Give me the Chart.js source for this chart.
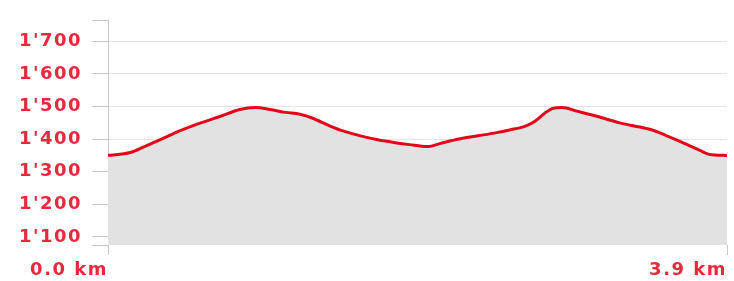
<!DOCTYPE html>
<html>
<head>
<meta charset="utf-8">
<script src="https://cdn.jsdelivr.net/npm/chart.js@4/dist/chart.umd.min.js"></script>
<style>
  html, body { margin: 0; padding: 0; background: #fff; }
  #wrap { width: 734px; height: 281px; }
</style>
</head>
<body>
<div id="wrap"><canvas id="profile" width="734" height="281"></canvas></div>
<script>
// distance along the route (km) and elevation (m)
const distances = [0, 0.14, 0.23, 0.33, 0.45, 0.58, 0.71, 0.83, 0.93, 1.02, 1.12, 1.21, 1.29, 1.40, 1.48, 1.59, 1.70, 1.81, 1.90, 2.01, 2.11, 2.22, 2.33, 2.44, 2.53, 2.63, 2.69, 2.75, 2.80, 2.86, 2.96, 3.08, 3.23, 3.35, 3.43, 3.52, 3.65, 3.73, 3.79, 3.90];
const elevations = [1350, 1359, 1377, 1398, 1425, 1449, 1470, 1491, 1497, 1491, 1482, 1476, 1464, 1440, 1425, 1410, 1398, 1389, 1383, 1377, 1389, 1401, 1410, 1419, 1428, 1440, 1455, 1479, 1494, 1497, 1485, 1470, 1449, 1437, 1428, 1410, 1383, 1365, 1353, 1350];
const yTicks = [1100, 1200, 1300, 1400, 1500, 1600, 1700];
const xTicks = [0, 3.9];
const yMin = 1075, yMax = 1763;

const red = '#e62a3d';

function fmtElev(v) {
  return String(v).replace(/(\d)(\d{3})$/, "$1'$2");
}

// wider letters like the original
const spacing = {
  id: 'spacing',
  beforeUpdate(chart) { chart.ctx.letterSpacing = '1.5px'; },
  beforeDraw(chart) { chart.ctx.letterSpacing = '1.5px'; }
};

new Chart(document.getElementById('profile'), {
  type: 'line',
  data: {
    datasets: [{
      data: distances.map((d, i) => ({ x: d, y: elevations[i] })),
      borderColor: '#e3061b',
      borderWidth: 3,
      backgroundColor: '#e2e2e2',
      fill: 'start',
      pointRadius: 0,
      tension: 0.4,
      cubicInterpolationMode: 'monotone'
    }]
  },
  options: {
    responsive: false,
    animation: false,
    layout: { padding: { top: 15, right: 7, bottom: 0, left: 0 } },
    plugins: { legend: { display: false }, tooltip: { enabled: false } },
    scales: {
      x: {
        type: 'linear',
        min: 0,
        max: 3.9,
        afterBuildTicks(s) { s.ticks = xTicks.map(v => ({ value: v })); },
        afterFit(s) { s.height = 36; },
        border: { display: false },
        grid: { drawOnChartArea: false, drawTicks: true, tickLength: 10, tickColor: '#c8c8c8' },
        ticks: {
          align: 'end',
          padding: 5,
          color: red,
          font: { family: 'DejaVu Sans', size: 18, weight: 'bold' },
          maxRotation: 0,
          callback: v => v.toFixed(1) + ' km'
        }
      },
      y: {
        min: yMin,
        max: yMax,
        afterBuildTicks(s) {
          s.ticks = [yMin].concat(yTicks, [yMax]).map(v => ({ value: v }));
        },
        afterFit(s) { s.width = 108; },
        border: { display: true, color: '#c8c8c8', width: 1 },
        grid: {
          color: c => (c.tick && yTicks.includes(c.tick.value)) ? '#e4e4e4' : 'rgba(0,0,0,0)',
          tickColor: '#c8c8c8',
          tickLength: 16
        },
        ticks: {
          padding: 10,
          color: red,
          font: { family: 'DejaVu Sans', size: 18, weight: 'bold' },
          callback: v => yTicks.includes(v) ? fmtElev(v) : ''
        }
      }
    }
  },
  plugins: [spacing]
});
</script>
</body>
</html>
